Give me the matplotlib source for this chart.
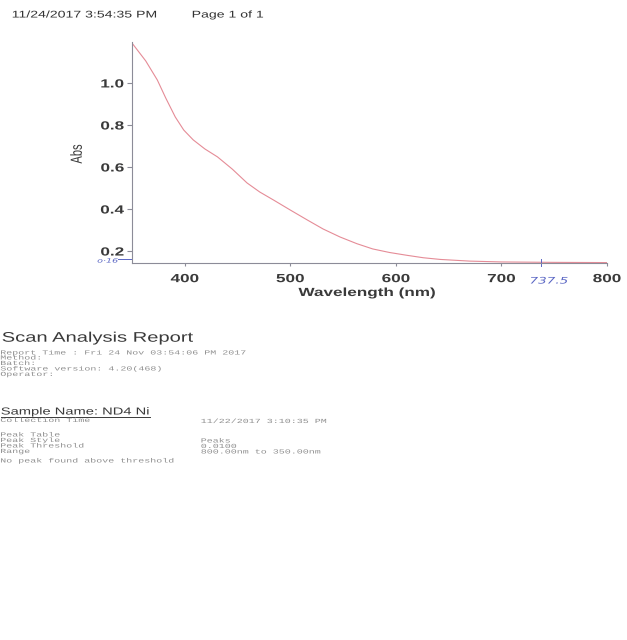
import numpy as np
import matplotlib
matplotlib.use("Agg")
import matplotlib.pyplot as plt
from matplotlib import patheffects
from matplotlib.transforms import Affine2D
from matplotlib.lines import Line2D

# UV-Vis scan of sample ND4 Ni (absorbance vs wavelength)
wavelength = [350, 363, 374, 382, 391, 399, 408, 419, 431, 445, 459, 471, 484,
              500, 516, 531, 547, 563, 578, 594, 610, 626, 642, 670, 700, 750, 800]
absorbance = [1.19, 1.105, 1.014, 0.928, 0.838, 0.776, 0.729, 0.686, 0.648, 0.59,
              0.524, 0.481, 0.443, 0.395, 0.348, 0.305, 0.267, 0.235, 0.21, 0.193,
              0.18, 0.168, 0.16, 0.152, 0.148, 0.146, 0.145]

x_ticks = [400, 500, 600, 700, 800]
y_ticks = [0.2, 0.4, 0.6, 0.8, 1.0]

header_date = "11/24/2017 3:54:35 PM"
header_page = "Page 1 of 1"
report_title = "Scan Analysis Report"
report_lines = ["Report Time : Fri 24 Nov 03:54:06 PM 2017",
                "Method:",
                "Batch:",
                "Software version: 4.20(468)",
                "Operator:"]
sample_name = "Sample Name: ND4 Ni"
collection_label = "Collection Time"
collection_time = "11/22/2017 3:10:35 PM"
peak_labels = ["Peak Table", "Peak Style", "Peak Threshold", "Range"]
peak_values = ["", "Peaks", "0.0100", "800.00nm to 350.00nm"]
peak_note = "No peak found above threshold"

baseline_mark = 0.16
marked_wavelength = 737.5

W, H = 627, 640
SX = 1.45  # printout is stretched sideways


class Widen(patheffects.AbstractPathEffect):
    """Stretch glyph outlines horizontally around an anchor."""

    def __init__(self, sx, anchor="left"):
        super().__init__()
        self.sx = sx
        self.anchor = anchor

    def draw_path(self, renderer, gc, tpath, affine, rgbFace=None):
        ext = tpath.get_extents(affine)
        x0 = {"left": ext.x0, "center": (ext.x0 + ext.x1) / 2,
              "right": ext.x1}[self.anchor]
        affine = affine + Affine2D().translate(-x0, 0).scale(self.sx, 1).translate(x0, 0)
        renderer.draw_path(gc, tpath, affine, rgbFace)


fig = plt.figure(figsize=(W / 100, H / 100), dpi=100)
fig.patch.set_facecolor("white")


def put(x, y, s, size, anchor="left", va="baseline", sx=SX, **kw):
    t = fig.text(x / W, 1 - y / H, s, fontsize=size, ha=anchor, va=va, **kw)
    t.set_path_effects([Widen(sx, anchor)])
    return t


# plot area
ax_l, ax_r, ax_t, ax_b = 132, 607, 42, 263
ax = fig.add_axes([ax_l / W, 1 - ax_b / H, (ax_r - ax_l) / W, (ax_b - ax_t) / H])
ax.plot(wavelength, absorbance, color="#e58c97", lw=0.8)
ax.set_xlim(350, 800)
ax.set_ylim(0.143, 1.195)
ax.set_xticks(x_ticks)
ax.set_yticks(y_ticks)
ax.set_xticklabels([str(v) for v in x_ticks])
ax.set_yticklabels([f"{v:.1f}" for v in y_ticks])

spine_col = "#8c8c98"
for side in ["top", "right"]:
    ax.spines[side].set_visible(False)
for side in ["left", "bottom"]:
    ax.spines[side].set_color(spine_col)
    ax.spines[side].set_linewidth(0.8)
ax.tick_params(axis="x", direction="out", length=2.5, width=0.8, color=spine_col,
               pad=4.8, labelsize=8.5, labelcolor="#3a3a3a")
ax.tick_params(axis="y", direction="out", length=3.6, width=0.8, color=spine_col,
               pad=2.2, labelsize=8.5, labelcolor="#3a3a3a")
for t in ax.get_xticklabels():
    t.set_fontfamily("Liberation Sans")
    t.set_fontweight("bold")
    t.set_path_effects([Widen(SX, "center")])
for t in ax.get_yticklabels():
    t.set_fontfamily("Liberation Sans")
    t.set_fontweight("bold")
    t.set_path_effects([Widen(SX, "right")])

ax.set_xlabel("Wavelength (nm)", fontsize=8.5, fontweight="bold",
              family="Liberation Sans", color="#3a3a3a")
ax.xaxis.set_label_coords((367 - ax_l) / (ax_r - ax_l), (ax_b - 287) / (ax_b - ax_t))
ax.xaxis.label.set_va("top")
ax.xaxis.label.set_path_effects([Widen(SX, "center")])

ax.set_ylabel("Abs", fontsize=8, family="Liberation Sans", color="#3a3a3a")
ax.yaxis.set_label_coords((77 - ax_l) / (ax_r - ax_l), (ax_b - 154) / (ax_b - ax_t))
ax.yaxis.label.set_va("center")
ax.yaxis.label.set_path_effects([Widen(SX, "center")])

# pen notes on the printout
ink = "#5a66c4"
ax.axhline(baseline_mark, xmin=-0.03, xmax=0.0, color=ink, lw=0.7, clip_on=False)
ax.annotate("o·16", xy=(0, baseline_mark), xycoords=("axes fraction", "data"),
            xytext=(-10, -1.2), textcoords="offset points", ha="right", va="center",
            fontsize=4.3, style="italic", color=ink,
            path_effects=[Widen(1.6, "right")])
ax.axvline(marked_wavelength, ymin=-0.015, ymax=0.02, color=ink, lw=0.7, clip_on=False)
ax.annotate("737.5", xy=(marked_wavelength, 0), xycoords=("data", "axes fraction"),
            xytext=(-8, -13), textcoords="offset points", ha="left", va="center",
            fontsize=6.5, style="italic", color=ink,
            path_effects=[Widen(1.5, "left")])

# page header
sans = "Liberation Sans"
put(12, 17.5, header_date, 7, family=sans, color="#333333")
put(192, 17.5, header_page, 7, family=sans, color="#333333")

# report text below the plot
put(2, 341.7, report_title, 10, family=sans, color="#3a3a3a")

mono = "Liberation Mono"
gray = "#8f8f8f"
MS, MX = 4.5, 1.6
for s, y in zip(report_lines, [353, 358, 363.5, 369, 374.5]):
    put(0.5, y, s, MS, va="center", sx=MX, family=mono, color=gray)

name = put(1, 414.5, sample_name, 7.3, family=sans, color="#3a3a3a")
fig.canvas.draw()
bb = name.get_window_extent()
y_line = 1 - 416.5 / H
fig.add_artist(Line2D([1 / W, (1 + bb.width * SX) / W], [y_line, y_line],
                      color="#3a3a3a", lw=0.7))

put(0.5, 420.5, collection_label, MS, va="center", sx=MX, family=mono, color=gray)
put(201, 421.5, collection_time, MS, va="center", sx=MX, family=mono, color=gray)

rows_y = [435, 440.5, 446, 451.5]
for lab, val, y in zip(peak_labels, peak_values, rows_y):
    put(0.5, y, lab, MS, va="center", sx=MX, family=mono, color=gray)
    if val:
        put(201, y + 0.5, val, MS, va="center", sx=MX, family=mono, color=gray)
put(0.5, 461, peak_note, MS, va="center", sx=MX, family=mono, color=gray)

fig.savefig("out.png", dpi=100, facecolor="white")
